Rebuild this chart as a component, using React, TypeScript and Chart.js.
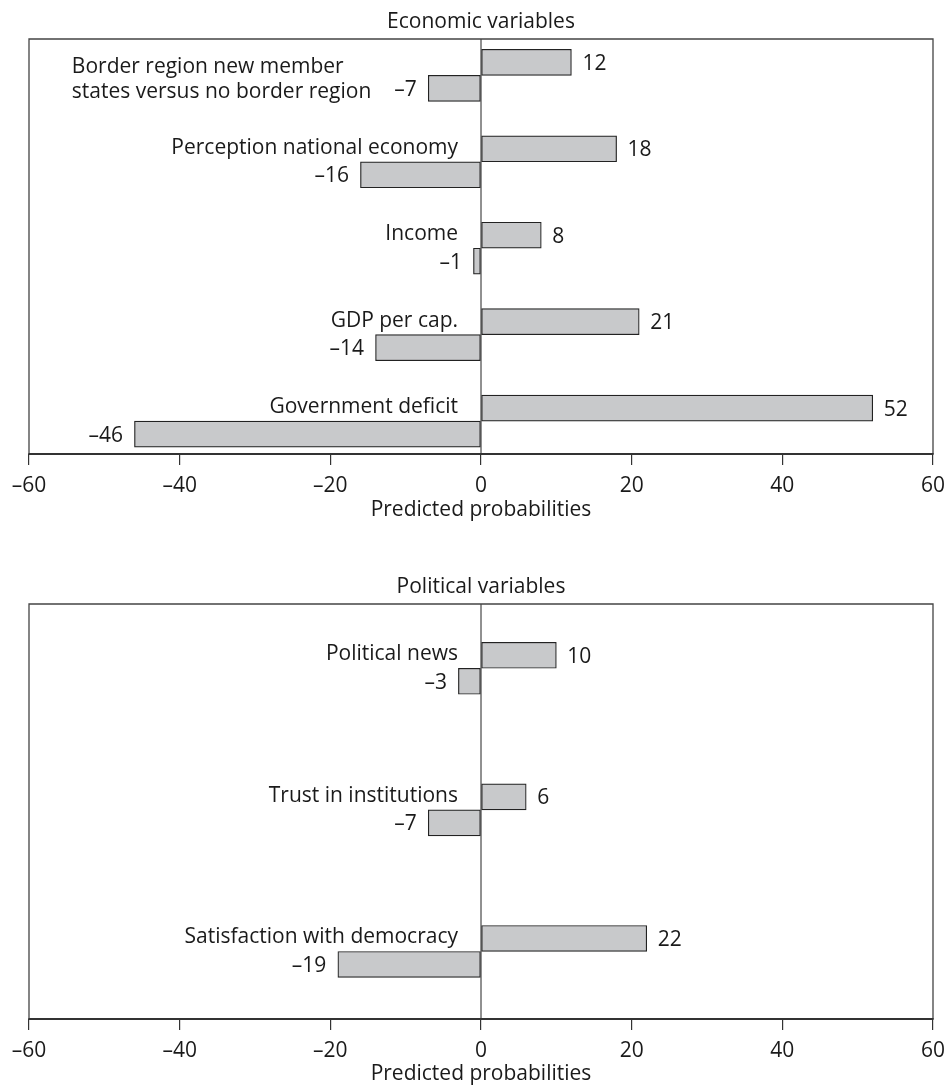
import React, { useEffect, useRef } from 'react';
import { Chart, registerables } from 'chart.js';

Chart.register(...registerables);

// ---------- data ----------
const econTitle = 'Economic variables';
const econCategories: string[][] = [
  ['Border region new member', 'states versus no border region'],
  ['Perception national economy'],
  ['Income'],
  ['GDP per cap.'],
  ['Government deficit'],
];
const econPositive = [12, 18, 8, 21, 52];
const econNegative = [-7, -16, -1, -14, -46];

const polTitle = 'Political variables';
const polCategories: string[][] = [
  ['Political news'],
  ['Trust in institutions'],
  ['Satisfaction with democracy'],
];
const polPositive = [10, 6, 22];
const polNegative = [-3, -7, -19];

const xMin = -60;
const xMax = 60;
const xStep = 20;
const axisTitle = 'Predicted probabilities';

// ---------- styles ----------
const FONT = '21px "Open Sans"';
const TEXT = '#1a1a1a';
const BAR_FILL = '#c8c9cb';
const BAR_BORDER = '#222222';

const fmt = (v: number) => (v < 0 ? '\u2013' + Math.abs(v) : String(v));

function makePlugin(
  title: string,
  categories: string[][],
  pos: number[],
  neg: number[],
  tickBase: number,
  titleBase: number
) {
  return {
    id: 'customDecor',
    beforeDatasetsDraw(chart: any) {
      const { ctx, chartArea: a, scales } = chart;
      const x0 = scales.x.getPixelForValue(0);
      ctx.save();
      ctx.strokeStyle = '#222';
      ctx.lineWidth = 1;
      ctx.beginPath();
      ctx.moveTo(x0, a.top);
      ctx.lineTo(x0, a.bottom);
      ctx.stroke();
      ctx.restore();
    },
    afterDraw(chart: any) {
      const { ctx, chartArea: a, scales } = chart;
      const xs = scales.x;
      ctx.save();
      // frame
      ctx.strokeStyle = '#444';
      ctx.lineWidth = 1.3;
      ctx.beginPath();
      ctx.moveTo(a.left, a.bottom);
      ctx.lineTo(a.left, a.top);
      ctx.lineTo(a.right, a.top);
      ctx.lineTo(a.right, a.bottom);
      ctx.stroke();
      ctx.strokeStyle = '#333';
      ctx.lineWidth = 2;
      ctx.beginPath();
      ctx.moveTo(a.left - 0.6, a.bottom);
      ctx.lineTo(a.right + 0.6, a.bottom);
      ctx.stroke();

      ctx.fillStyle = TEXT;
      ctx.font = FONT;
      ctx.textBaseline = 'alphabetic';

      // title
      ctx.textAlign = 'center';
      ctx.fillText(title, (a.left + a.right) / 2, a.top - 11.5);

      // tick labels
      xs.ticks.forEach((t: any) => {
        const px = xs.getPixelForValue(t.value);
        ctx.fillText(fmt(t.value), px, a.bottom + tickBase);
      });
      // axis title
      ctx.fillText(axisTitle, (a.left + a.right) / 2, a.bottom + titleBase);

      const x0 = xs.getPixelForValue(0);
      const posMeta = chart.getDatasetMeta(0);
      const negMeta = chart.getDatasetMeta(1);
      categories.forEach((lines, i) => {
        const pe = posMeta.data[i];
        const ne = negMeta.data[i];
        // value labels
        ctx.textAlign = 'left';
        ctx.fillText(fmt(pos[i]), pe.x + 11, pe.y + 7.5);
        ctx.textAlign = 'right';
        const negText = fmt(neg[i]);
        ctx.fillText(negText, ne.x - 11.5, ne.y + 7.5);
        // category label
        if (lines.length === 1) {
          ctx.textAlign = 'right';
          ctx.fillText(lines[0], x0 - 23, pe.y + 5);
        } else {
          const negLeft = ne.x - 11.5 - ctx.measureText(negText).width;
          const right = negLeft - 23;
          const maxW = Math.max(...lines.map((l) => ctx.measureText(l).width));
          ctx.textAlign = 'left';
          const lastBase = ne.y + 10;
          lines.forEach((l, k) => {
            ctx.fillText(l, right - maxW, lastBase - (lines.length - 1 - k) * 25);
          });
        }
      });
      ctx.restore();
    },
  };
}

function makeConfig(
  title: string,
  categories: string[][],
  pos: number[],
  neg: number[],
  yMin: number,
  yMax: number,
  padTop: number,
  padBottom: number,
  tickBase: number,
  titleBase: number
): any {
  return {
    type: 'bar',
    data: {
      datasets: [
        {
          data: pos.map((v, i) => ({ x: v, y: i })),
          backgroundColor: BAR_FILL,
          borderColor: BAR_BORDER,
          borderWidth: 1.2,
          borderSkipped: false,
          barThickness: 26,
        },
        {
          data: neg.map((v, i) => ({ x: v, y: i })),
          backgroundColor: BAR_FILL,
          borderColor: BAR_BORDER,
          borderWidth: 1.2,
          borderSkipped: false,
          barThickness: 26,
        },
      ],
    },
    options: {
      indexAxis: 'y',
      animation: false,
      responsive: false,
      devicePixelRatio: 1,
      layout: { padding: { top: padTop, bottom: padBottom, left: 29, right: 16 } },
      plugins: { legend: { display: false }, tooltip: { enabled: false }, title: { display: false } },
      scales: {
        x: {
          type: 'linear',
          min: xMin,
          max: xMax,
          offset: false,
          ticks: { stepSize: xStep, display: false },
          grid: {
            offset: false,
            drawOnChartArea: false,
            drawTicks: true,
            tickLength: 11,
            color: '#333',
            lineWidth: 1.2,
          },
          border: { display: false },
          afterFit: (s: any) => {
            s.height = 11;
          },
        },
        y: {
          type: 'linear',
          min: yMin,
          max: yMax,
          offset: false,
          grid: { offset: false },
          reverse: true,
          display: false,
        },
      },
    },
    plugins: [makePlugin(title, categories, pos, neg, tickBase, titleBase)],
  };
}

function Panel(props: { cfg: any; top: number; height: number }) {
  const ref = useRef<HTMLCanvasElement | null>(null);
  useEffect(() => {
    if (!ref.current) return;
    const chart = new Chart(ref.current, props.cfg);
    return () => chart.destroy();
  }, []);
  return (
    <canvas
      ref={ref}
      width={949}
      height={props.height}
      style={{ position: 'absolute', left: 0, top: props.top, width: 949, height: props.height }}
    />
  );
}

export default function App() {
  const econCfg = makeConfig(econTitle, econCategories, econPositive, econNegative, -0.42, 4.38, 39, 95, 37.5, 62);
  const polCfg = makeConfig(polTitle, polCategories, polPositive, polNegative, -0.454, 2.477, 44, 56, 37.5, 61);
  return (
    <div style={{ position: 'absolute', left: 0, top: 0, width: 949, height: 1086, background: '#fff' }}>
      <Panel cfg={econCfg} top={0} height={560} />
      <Panel cfg={polCfg} top={560} height={526} />
    </div>
  );
}
